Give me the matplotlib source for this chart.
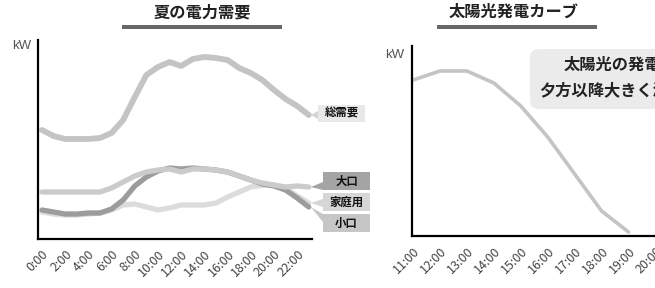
import matplotlib
matplotlib.use("Agg")
import matplotlib.pyplot as plt
from matplotlib.patches import Rectangle, Polygon, FancyBboxPatch
from matplotlib.transforms import IdentityTransform

plt.rcParams['font.family'] = ['Noto Sans CJK JP', 'DejaVu Sans']

# summer demand, hourly (arbitrary kW scale)
hours = list(range(24))
hour_ticks = list(range(0, 24, 2))
hour_labels = [f"{h}:00" for h in hour_ticks]
total = [109, 103, 100, 100, 100, 101, 106, 119, 142, 164, 172, 177,
         173, 180, 182, 181, 179, 171, 166, 159, 149, 140, 133, 124]
ookuchi = [47, 47, 47, 47, 47, 47, 51, 57, 63, 67, 69, 70,
           67, 70, 70, 69, 67, 63, 59, 56, 54, 52, 53, 52]
kateiyou = [27, 25, 24, 24, 25, 26, 29, 34, 35, 32, 29, 31,
            34, 34, 34, 36, 42, 47, 52, 54, 54, 51, 43, 36]
koguchi = [29, 27, 25, 25, 26, 26, 30, 39, 53, 62, 68, 71,
           70, 71, 70, 69, 67, 63, 59, 55, 53, 49, 41, 32]

# solar generation curve
solar_hours = list(range(11, 20))
solar = [156, 165, 165, 153, 130, 99, 62, 25, 4]
solar_ticks = list(range(11, 21))
solar_labels = [f"{h}:00" for h in solar_ticks]

note_lines = ['太陽光の発電量は', '夕方以降大きく減少する']

W, H = 655, 288
fig = plt.figure(figsize=(W / 100, H / 100), dpi=100)


def px_axes(x0, y0, x1, y1):
    return fig.add_axes([x0 / W, 1 - y1 / H, (x1 - x0) / W, (y1 - y0) / H])


def style(ax):
    for s in ['top', 'right']:
        ax.spines[s].set_visible(False)
    for s in ['left', 'bottom']:
        ax.spines[s].set_linewidth(1.6)
        ax.spines[s].set_color('black')
    ax.set_yticks([])
    ax.tick_params(axis='x', length=0, pad=6, labelsize=9, labelcolor='#444')
    for t in ax.get_xticklabels():
        t.set_rotation(45)
        t.set_ha('right')
        t.set_va('top')
        t.set_rotation_mode('anchor')
    ax.patch.set_alpha(0)


def title(text, cx, bx0, bx1):
    fig.text(cx / W, 1 - 12 / H, text, ha='center', va='center',
             fontsize=11.7, weight='bold', color='#222')
    fig.add_artist(Rectangle((bx0 / W, 1 - 28.5 / H), (bx1 - bx0) / W, 3.5 / H,
                             color='#676767', transform=fig.transFigure, lw=0))


def kw(x, y):
    fig.text(x / W, 1 - y / H, 'kW', ha='center', va='center', fontsize=9.5,
             color='#555', family='Liberation Sans')


# left: summer demand
ax1 = px_axes(38, 40, 312, 239)
ax1.set_xlim(-0.345, 23.28)
ax1.set_ylim(0, 199)
ax1.plot(hours, total, color='#c4c4c4', lw=4.2, solid_capstyle='round')
ax1.plot(hours, kateiyou, color='#dcdcdc', lw=3.8, solid_capstyle='round')
ax1.plot(hours, koguchi, color='#9c9c9c', lw=3.8, solid_capstyle='round')
ax1.plot(hours, ookuchi, color='#cbcbcb', lw=3.8, solid_capstyle='round')
ax1.set_xticks(hour_ticks, hour_labels)
style(ax1)
title('夏の電力需要', 202, 122, 282)
kw(22, 46)


def label_box(ax, x, y, text, box, color, conn):
    bx0, by0, bx1, by1 = box
    tx, ty = ax.transData.transform((x, y))
    ty = H - ty
    tx += 2
    cy = min(max(ty, by0 + 4), by1 - 4)
    pts = [(tx, ty), (bx0, cy - 4), (bx0, cy + 4)]
    fig.add_artist(Polygon([(px / W, 1 - py / H) for px, py in pts], closed=True,
                           color=conn, lw=0, transform=fig.transFigure))
    fig.add_artist(Rectangle((bx0 / W, 1 - by1 / H), (bx1 - bx0) / W, (by1 - by0) / H,
                             color=color, lw=0, transform=fig.transFigure))
    fig.text((bx0 + bx1) / 2 / W, 1 - (by0 + by1) / 2 / H, text, ha='center',
             va='center', fontsize=8.2, color='#111', weight='bold')


label_box(ax1, 23, total[-1], '総需要', (318, 105, 365, 122), '#e8e8e8', '#d4d4d4')
label_box(ax1, 23, ookuchi[-1], '大口', (323, 172, 370, 190), '#a4a4a4', '#a4a4a4')
label_box(ax1, 23, kateiyou[-1], '家庭用', (323, 193, 370, 211), '#d6d6d6', '#d6d6d6')
label_box(ax1, 23, koguchi[-1], '小口', (323, 214, 370, 232), '#c6c6c6', '#c6c6c6')

# right: solar curve
ax2 = px_axes(412, 46, 712, 236)
ax2.set_xlim(10.96, 22.1)
ax2.set_ylim(0, 190)
ax2.plot(solar_hours, solar, color='#c4c4c4', lw=2.6, solid_capstyle='round')
ax2.set_xticks(solar_ticks, solar_labels)
style(ax2)
title('太陽光発電カーブ', 514, 437, 597)
kw(395, 55)

# callout box (runs off the right edge, as in the source)
fig.add_artist(FancyBboxPatch((530, H - 109), 200, 60,
                              boxstyle='round,pad=0,rounding_size=9',
                              fc='#ebebeb', ec='none', transform=IdentityTransform()))
for line, yy in zip(note_lines, [65, 90]):
    fig.text(629 / W, 1 - yy / H, line, ha='center', va='center',
             fontsize=11.7, weight='bold', color='#222')

fig.savefig('out.png', dpi=100)
